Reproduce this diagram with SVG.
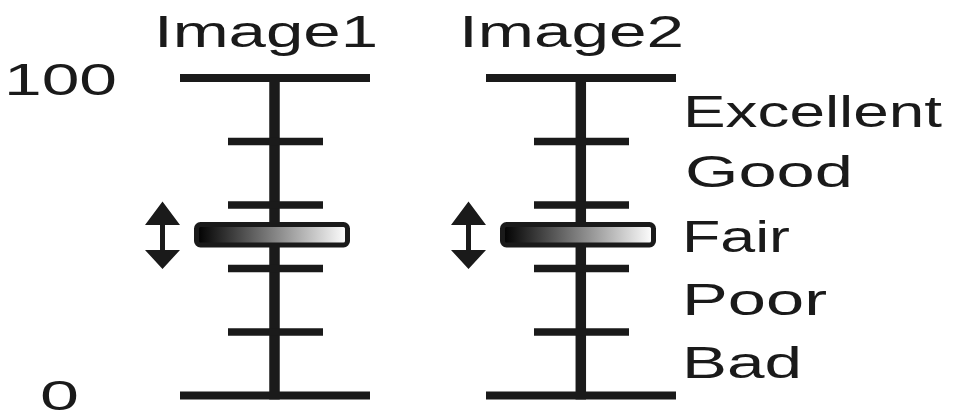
<svg xmlns="http://www.w3.org/2000/svg" width="956" height="413" viewBox="0 0 956 413">
<defs>
<style>
.ln{stroke:#1a1a1a;fill:none}
.ax{stroke-width:10.5}
.mj{stroke-width:8}
.tk{stroke-width:7.5}
.tx{font-family:"Liberation Sans",Arial,sans-serif;fill:#1a1a1a}
.sl{stroke:#1a1a1a;stroke-width:5;fill:url(#g)}
.ar{fill:#1a1a1a}
</style>
<linearGradient id="g" x1="0" y1="0" x2="1" y2="0">
<stop offset="0" stop-color="#000"/>
<stop offset="1" stop-color="#fff"/>
</linearGradient>
</defs>
<g id="labels-scale">
<text class="tx" x="4" y="95" font-size="44.7" textLength="113" lengthAdjust="spacingAndGlyphs">100</text>
<text class="tx" x="40" y="409.5" font-size="43" textLength="39" lengthAdjust="spacingAndGlyphs">0</text>
</g>
<g id="scale1">
<text class="tx" x="154" y="46.5" font-size="44" textLength="224" lengthAdjust="spacingAndGlyphs">Image1</text>
<line class="ln ax" x1="274.5" y1="74" x2="274.5" y2="399.5"/>
<line class="ln mj" x1="180" y1="78" x2="370" y2="78"/>
<line class="ln mj" x1="180" y1="395.5" x2="370" y2="395.5"/>
<line class="ln tk" x1="228" y1="141.5" x2="323" y2="141.5"/>
<line class="ln tk" x1="228" y1="205" x2="323" y2="205"/>
<line class="ln tk" x1="228" y1="268.5" x2="323" y2="268.5"/>
<line class="ln tk" x1="228" y1="332" x2="323" y2="332"/>
<rect class="sl" x="196.5" y="224.5" width="151" height="20.5" rx="4"/>
<polygon class="ar" points="162.5,201.5 180,225 165,225 165,250 180,250 162.5,269 145,250 160,250 160,225 145,225"/>
</g>
<g id="scale2">
<text class="tx" x="459" y="46.5" font-size="44" textLength="225" lengthAdjust="spacingAndGlyphs">Image2</text>
<line class="ln ax" x1="580.8" y1="74" x2="580.8" y2="399.5"/>
<line class="ln mj" x1="486" y1="78" x2="676" y2="78"/>
<line class="ln mj" x1="486" y1="395.5" x2="676" y2="395.5"/>
<line class="ln tk" x1="534" y1="141.5" x2="629" y2="141.5"/>
<line class="ln tk" x1="534" y1="205" x2="629" y2="205"/>
<line class="ln tk" x1="534" y1="268.5" x2="629" y2="268.5"/>
<line class="ln tk" x1="534" y1="332" x2="629" y2="332"/>
<rect class="sl" x="502.5" y="224.5" width="151" height="20.5" rx="4"/>
<polygon class="ar" points="468.5,201.5 486,225 471,225 471,250 486,250 468.5,269 451,250 466,250 466,225 451,225"/>
</g>
<g id="labels-quality">
<text class="tx" x="683" y="126.5" font-size="45" textLength="259" lengthAdjust="spacingAndGlyphs">Excellent</text>
<text class="tx" x="685" y="186.5" font-size="45" textLength="168" lengthAdjust="spacingAndGlyphs">Good</text>
<text class="tx" x="682" y="252" font-size="45" textLength="108" lengthAdjust="spacingAndGlyphs">Fair</text>
<text class="tx" x="682" y="315" font-size="45" textLength="145" lengthAdjust="spacingAndGlyphs">Poor</text>
<text class="tx" x="682" y="378" font-size="45" textLength="120" lengthAdjust="spacingAndGlyphs">Bad</text>
</g>
</svg>
